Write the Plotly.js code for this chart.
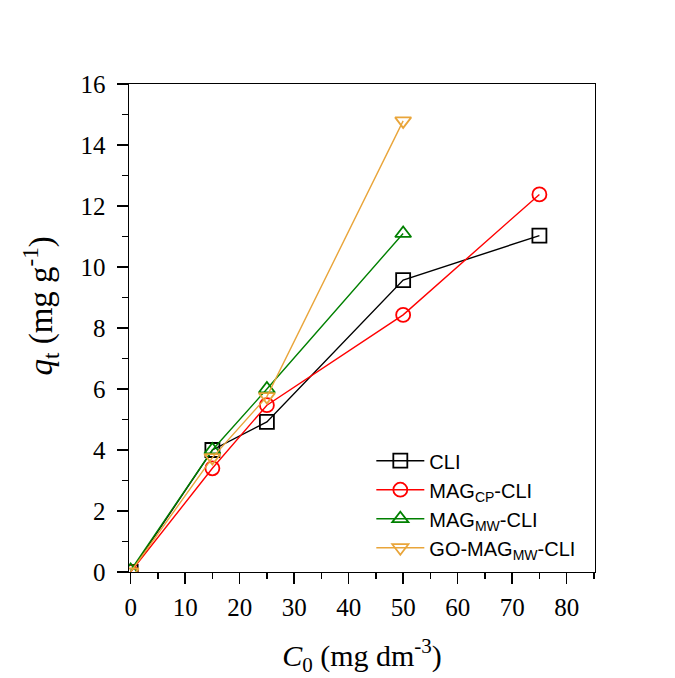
<!DOCTYPE html>
<html>
<head>
<meta charset="utf-8">
<script src="https://cdn.plot.ly/plotly-3.0.1.min.js"></script>
<style>html,body{margin:0;padding:0;background:#fff;}#chart{width:675px;height:678px;}</style>
</head>
<body>
<div id="chart"></div>
<script>
const seriesNames = ['CLI', 'MAG<sub>CP</sub>-CLI', 'MAG<sub>MW</sub>-CLI', 'GO-MAG<sub>MW</sub>-CLI'];
const xCLI = [0, 15, 25, 50, 75];
const yCLI = [0, 4.0, 4.92, 9.57, 11.03];
const xCP = [0, 15, 25, 50, 75];
const yCP = [0, 3.4, 5.47, 8.43, 12.38];
const xMW = [0, 15, 25, 50];
const yMW = [0.05, 4.0, 6.0, 11.1];
const xGO = [0, 15, 25, 50];
const yGO = [0, 3.75, 5.75, 14.79];
const xTitle = '<i>C</i><sub>0</sub> (mg dm<sup>-3</sup>)';
const yTitle = '<i>q</i><sub>t</sub> (mg g<sup>-1</sup>)';

const colors = ['#000000', '#FF0000', '#008000', '#E9A53A'];
const symbols = ['square-open', 'circle-open', 'triangle-up-open', 'triangle-down-open'];
const xs = [xCLI, xCP, xMW, xGO];
const ys = [yCLI, yCP, yMW, yGO];

const traces = seriesNames.map((n, i) => ({
  x: xs[i], y: ys[i], name: n, type: 'scatter', mode: 'lines+markers',
  line: {color: colors[i], width: 1.4},
  marker: {symbol: symbols[i], size: 14, color: colors[i], line: {color: colors[i], width: 1.8}}
}));

const serif = 'Liberation Serif, Times New Roman, serif';
const axisCommon = {
  showline: true, linecolor: '#000', linewidth: 1.4, mirror: true,
  ticks: 'outside', ticklen: 11, tickwidth: 1.4, tickcolor: '#000',
  showgrid: false, zeroline: false,
  tickfont: {family: serif, size: 25, color: '#000'}
};

const layout = {
  width: 675, height: 678,
  margin: {l: 129, r: 80, t: 84, b: 106},
  paper_bgcolor: '#fff', plot_bgcolor: '#fff',
  showlegend: true,
  legend: {x: 0.52, y: 0.268, xanchor: 'left', yanchor: 'top', bgcolor: 'rgba(0,0,0,0)',
    font: {family: 'Liberation Sans, Arial, sans-serif', size: 20, color: '#000'}, tracegroupgap: 0, itemwidth: 48},
  xaxis: Object.assign({}, axisCommon, {
    range: [-0.3, 85.2], tickvals: [0, 10, 20, 30, 40, 50, 60, 70, 80], ticklabelstandoff: 2,
    minor: {ticks: 'outside', ticklen: 6, tickwidth: 1.4, tickcolor: '#000', dtick: 5, tick0: 0},
    title: {text: xTitle, font: {family: serif, size: 30, color: '#000'}, standoff: 24}
  }),
  yaxis: Object.assign({}, axisCommon, {
    range: [0, 16], tickvals: [0, 2, 4, 6, 8, 10, 12, 14, 16], ticklabelstandoff: 6,
    minor: {ticks: 'outside', ticklen: 6, tickwidth: 1.4, tickcolor: '#000', dtick: 1, tick0: 0}
  }),
  annotations: [{
    text: yTitle, xref: 'paper', yref: 'paper', x: -0.19, y: 0.545,
    xanchor: 'center', yanchor: 'middle', textangle: -90, showarrow: false,
    font: {family: serif, size: 33, color: '#000'}
  }]
};

Plotly.newPlot('chart', traces, layout, {displayModeBar: false, staticPlot: true});
</script>
</body>
</html>
